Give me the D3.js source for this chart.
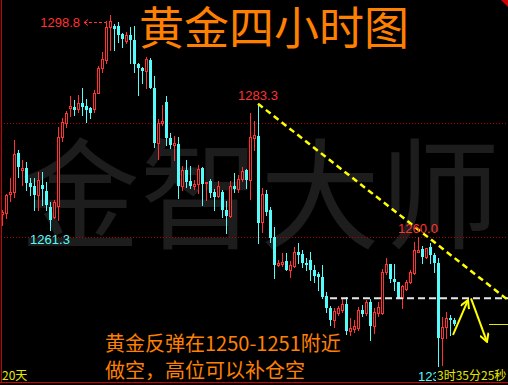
<!DOCTYPE html>
<html>
<head>
<meta charset="utf-8">
<script src="https://cdn.jsdelivr.net/npm/d3@7"></script>
<style>
html, body { margin: 0; padding: 0; background: #000; overflow: hidden; }
</style>
</head>
<body>
<div id="chart"></div>
<script>
///////////////////////////////////////////////////////////////////////////
///////////////////////////////// Data ////////////////////////////////////
///////////////////////////////////////////////////////////////////////////

// 4 hour gold candles (oldest first)
var open = [1264.0,1264.2,1267.5,1267.9,1274.7,1271.7,1272.0,1269.4,1268.9,1267.3,
  1269.1,1268.0,1265.2,1263.5,1265.4,1277.5,1279.9,1282.5,1282.7,1282.4,
  1283.4,1282.9,1282.5,1282.4,1285.2,1289.5,1290.9,1296.7,1296.9,1296.9,
  1295.5,1294.3,1295.3,1294.4,1290.2,1289.5,1289.0,1290.9,1286.0,1276.4,
  1279.9,1283.6,1277.3,1276.1,1276.2,1268.9,1271.7,1269.8,1268.9,1269.3,
  1272.0,1269.4,1269.8,1267.9,1267.2,1267.9,1264.7,1263.7,1268.9,1268.4,
  1270.1,1271.7,1270.0,1277.3,1277.6,1262.6,1267.5,1264.7,1260.0,1255.1,
  1255.3,1255.8,1254.2,1254.9,1257.4,1257.0,1255.4,1256.0,1254.2,1253.5,
  1253.0,1249.7,1247.6,1245.5,1246.7,1247.2,1248.3,1243.6,1243.9,1244.1,
  1247.2,1246.7,1248.6,1244.4,1246.7,1246.7,1253.9,1255.3,1252.6,1252.1,
  1249.3,1250.9,1252.1,1253.7,1257.4,1257.9,1256.5,1258.2,1256.8,1255.4,
  1242.3,1244.3,1245.8,1245.5];

var high = [1264.7,1267.5,1270.3,1276.9,1275.2,1273.4,1273.1,1270.3,1270.3,1271.3,
  1271.3,1269.6,1266.1,1266.5,1279.2,1280.8,1282.0,1284.6,1283.9,1284.8,
  1286.0,1284.1,1282.7,1285.7,1289.9,1292.3,1297.7,1298.8,1297.2,1297.6,
  1295.6,1295.8,1296.7,1296.9,1290.4,1289.7,1291.5,1291.3,1288.1,1280.6,
  1283.1,1284.6,1278.2,1277.6,1277.5,1272.4,1273.4,1272.4,1270.0,1272.6,
  1272.2,1269.6,1270.1,1268.4,1269.8,1268.2,1266.3,1269.8,1271.2,1270.8,
  1272.2,1271.9,1281.7,1280.3,1283.3,1268.6,1268.2,1265.2,1261.7,1256.0,
  1257.2,1257.2,1255.8,1258.2,1258.9,1257.7,1256.3,1257.4,1255.1,1253.9,
  1255.1,1250.4,1247.9,1247.6,1247.9,1249.1,1249.5,1245.8,1245.5,1247.8,
  1248.1,1249.0,1249.1,1247.6,1248.6,1254.4,1256.3,1255.3,1255.3,1252.1,
  1251.6,1252.5,1254.2,1259.1,1260.0,1258.4,1258.1,1258.9,1257.2,1256.3,
  1246.0,1246.9,1246.4,1245.8];

var low = [1262.1,1263.3,1266.3,1267.0,1270.5,1269.1,1268.2,1267.3,1264.7,1264.7,
  1265.6,1264.7,1261.3,1263.3,1263.0,1276.8,1279.2,1281.1,1281.3,1281.8,
  1281.3,1280.1,1280.8,1281.8,1285.2,1288.8,1290.4,1292.7,1292.7,1294.1,
  1293.2,1293.9,1290.4,1288.8,1284.8,1286.9,1286.0,1286.0,1275.7,1273.6,
  1279.6,1276.1,1275.5,1273.4,1266.8,1268.2,1268.7,1268.6,1268.4,1267.7,
  1265.6,1266.5,1267.0,1264.7,1267.0,1263.5,1260.7,1263.5,1267.9,1267.9,
  1269.8,1268.6,1266.6,1275.2,1258.9,1260.9,1263.8,1259.1,1252.8,1254.9,
  1254.9,1254.2,1253.0,1254.7,1255.4,1254.7,1254.2,1252.5,1252.1,1250.7,
  1249.3,1246.9,1244.6,1244.3,1246.4,1246.9,1243.0,1242.9,1243.4,1243.7,
  1246.2,1246.4,1242.0,1243.2,1246.2,1246.5,1253.5,1252.1,1250.7,1249.3,
  1247.6,1250.7,1251.9,1253.5,1257.4,1255.4,1256.3,1255.4,1253.9,1237.3,
  1237.6,1242.3,1242.9,1244.6];

var close = [1264.4,1267.3,1267.9,1274.5,1272.2,1272.0,1269.4,1268.7,1267.3,1270.0,
  1268.4,1265.6,1263.0,1266.1,1277.5,1280.1,1281.7,1282.9,1282.2,1283.4,
  1282.7,1282.2,1281.7,1285.2,1289.5,1291.1,1296.7,1297.7,1296.3,1295.3,
  1294.6,1295.3,1294.4,1290.2,1289.5,1289.0,1291.1,1286.0,1276.4,1279.9,
  1280.3,1277.3,1276.1,1276.4,1268.9,1271.7,1269.6,1268.9,1269.3,1271.9,
  1269.3,1269.6,1267.7,1267.0,1268.9,1264.7,1263.7,1268.9,1268.4,1270.1,
  1271.5,1270.0,1277.5,1277.8,1262.4,1267.5,1264.4,1259.8,1255.1,1255.4,
  1255.6,1254.2,1255.1,1257.4,1256.8,1255.4,1255.1,1254.2,1253.2,1253.0,
  1249.5,1247.6,1245.5,1247.0,1247.6,1248.3,1243.6,1244.1,1244.4,1247.2,
  1246.5,1248.6,1244.4,1246.9,1247.8,1253.9,1255.3,1252.6,1252.1,1249.3,
  1251.4,1252.1,1253.9,1257.7,1257.7,1256.5,1258.1,1256.8,1255.4,1242.3,
  1244.3,1245.8,1245.5,1244.8];

var gridLevels = [1280, 1260];
var peakIndex = 27;            // highest high, labelled with an arrow
var highMarks = [64, 104];     // swing highs labelled in red
var lowMarks = [12, 109];      // swing lows labelled in cyan
var supportLevel = 1249.3;     // white dashed line
var supportFrom = 82;          // candle index where it starts
var trendLine = [[64, 1283.3], [126.5, 1249.0]];
var arrowUp = [[112.75, 1242.9], [116.5, 1249.0]];
var arrowDown = [[117.25, 1249.3], [121.25, 1241.7]];

var title = "黄金四小时图";
var watermark = "金智大师";
var noteLines = ["黄金反弹在1250-1251附近", "做空，高位可以补仓空"];
var periodText = "20天";
var timerText = "3时35分25秒";

///////////////////////////////////////////////////////////////////////////
/////////////////////////////// Set up svg ////////////////////////////////
///////////////////////////////////////////////////////////////////////////

var width = 508;
var height = 385;

var red = "#ff3232";
var cyan = "#54fcfc";
var orange = "#ff8000";
var yellow = "#ffff00";

var svg = d3.select("#chart")
  .append("svg")
  .attr("width", width)
  .attr("height", height);

svg.append("rect")
  .attr("width", width)
  .attr("height", height)
  .attr("fill", "#000");

var candles = d3.range(open.length).map(function(i) {
  return {i: i, o: open[i], h: high[i], l: low[i], c: close[i]};
});

var x = d3.scaleLinear().domain([0, 113]).range([2, 454]);
var y = d3.scaleLinear().domain([1237.3, 1298.8]).range([367, 15]);

//watermark behind everything
svg.append("text")
  .attr("x", 260)
  .attr("y", 240)
  .attr("text-anchor", "middle")
  .attr("font-family", "'Noto Sans CJK SC', sans-serif")
  .attr("font-size", 120)
  .attr("fill", "#1d1d1d")
  .text(watermark);

//dotted price grid
svg.selectAll(".grid")
  .data(gridLevels)
  .enter().append("line")
  .attr("x1", 1)
  .attr("x2", width)
  .attr("y1", function(d) { return Math.round(y(d)) + 0.5; })
  .attr("y2", function(d) { return Math.round(y(d)) + 0.5; })
  .attr("stroke", "#b00000")
  .attr("stroke-dasharray", "1,2");

///////////////////////////////////////////////////////////////////////////
///////////////////////////// Candles /////////////////////////////////////
///////////////////////////////////////////////////////////////////////////

var candle = svg.append("g").selectAll("g")
  .data(candles)
  .enter().append("g");

candle.append("line")
  .attr("x1", function(d) { return Math.round(x(d.i)) + 0.5; })
  .attr("x2", function(d) { return Math.round(x(d.i)) + 0.5; })
  .attr("y1", function(d) { return Math.round(y(d.h)); })
  .attr("y2", function(d) { return Math.round(y(d.l)) + 1; })
  .attr("stroke", function(d) { return d.c >= d.o ? red : cyan; })
  .attr("stroke-width", 1);

//down candles: filled cyan
candle.filter(function(d) { return d.c < d.o; })
  .append("rect")
  .attr("x", function(d) { return Math.round(x(d.i)) - 1; })
  .attr("width", 3)
  .attr("y", function(d) { return Math.round(y(d.o)); })
  .attr("height", function(d) { return Math.max(1, Math.round(y(d.c)) - Math.round(y(d.o))); })
  .attr("fill", cyan);

//up candles: hollow red
candle.filter(function(d) { return d.c >= d.o; })
  .append("rect")
  .attr("x", function(d) { return Math.round(x(d.i)) - 0.5; })
  .attr("width", 2)
  .attr("y", function(d) { return Math.round(y(d.c)) + 0.5; })
  .attr("height", function(d) { return Math.max(1, Math.round(y(d.o)) - Math.round(y(d.c))); })
  .attr("fill", "#000")
  .attr("stroke", red)
  .attr("stroke-width", 1);

///////////////////////////////////////////////////////////////////////////
////////////////////////// Drawn lines & arrows ///////////////////////////
///////////////////////////////////////////////////////////////////////////

svg.append("line")
  .attr("x1", x(supportFrom))
  .attr("x2", width)
  .attr("y1", y(supportLevel))
  .attr("y2", y(supportLevel))
  .attr("stroke", "#e6e6e6")
  .attr("stroke-width", 2)
  .attr("stroke-dasharray", "7,4");

svg.append("line")
  .attr("x1", x(trendLine[0][0]))
  .attr("y1", y(trendLine[0][1]))
  .attr("x2", x(trendLine[1][0]))
  .attr("y2", y(trendLine[1][1]))
  .attr("stroke", yellow)
  .attr("stroke-width", 2.5)
  .attr("stroke-dasharray", "6,4");

var defs = svg.append("defs");
defs.append("marker")
  .attr("id", "vhead")
  .attr("viewBox", "0 0 10 10")
  .attr("refX", 9)
  .attr("refY", 5)
  .attr("markerWidth", 10)
  .attr("markerHeight", 10)
  .attr("markerUnits", "userSpaceOnUse")
  .attr("orient", "auto")
  .append("path")
  .attr("d", "M1,0.5 L9,5 L1,9.5")
  .attr("fill", "none")
  .attr("stroke", yellow)
  .attr("stroke-width", 2);

var arrowLine = d3.line()
  .x(function(d) { return x(d[0]); })
  .y(function(d) { return y(d[1]); });

[arrowUp, arrowDown].forEach(function(a) {
  svg.append("path")
    .attr("d", arrowLine(a))
    .attr("fill", "none")
    .attr("stroke", yellow)
    .attr("stroke-width", 2)
    .attr("marker-end", "url(#vhead)");
});

//last price tick at the right edge
var lastClose = close[close.length - 1];
svg.append("line")
  .attr("x1", 489)
  .attr("x2", width)
  .attr("y1", Math.round(y(lastClose)) + 0.5)
  .attr("y2", Math.round(y(lastClose)) + 0.5)
  .attr("stroke", "#e8e800")
  .attr("stroke-width", 1);

///////////////////////////////////////////////////////////////////////////
////////////////////////////// Price labels ///////////////////////////////
///////////////////////////////////////////////////////////////////////////

var labelFont = "'Liberation Sans', Arial, sans-serif";

//peak label with arrow
var peakY = Math.round(y(high[peakIndex]));
svg.append("text")
  .attr("x", 80)
  .attr("y", peakY + 12)
  .attr("text-anchor", "end")
  .attr("font-family", labelFont)
  .attr("font-size", 13)
  .attr("fill", red)
  .text(high[peakIndex].toFixed(1));
svg.append("line")
  .attr("x1", 84)
  .attr("x2", Math.round(x(peakIndex)))
  .attr("y1", peakY + 7.5)
  .attr("y2", peakY + 7.5)
  .attr("stroke", red)
  .attr("stroke-dasharray", "3,2");
svg.append("path")
  .attr("d", "M88," + (peakY + 4.5) + " L84," + (peakY + 7.5) + " L88," + (peakY + 10.5))
  .attr("fill", "none")
  .attr("stroke", red);

svg.selectAll(".hi")
  .data(highMarks)
  .enter().append("text")
  .attr("x", function(d) { return x(d); })
  .attr("y", function(d) { return y(high[d]) - 4; })
  .attr("text-anchor", "middle")
  .attr("font-family", labelFont)
  .attr("font-size", 13)
  .attr("fill", red)
  .text(function(d) { return high[d].toFixed(1); });

svg.selectAll(".lo")
  .data(lowMarks)
  .enter().append("text")
  .attr("x", function(d) { return x(d); })
  .attr("y", function(d) { return y(low[d]) + 14; })
  .attr("text-anchor", "middle")
  .attr("font-family", labelFont)
  .attr("font-size", 13)
  .attr("fill", cyan)
  .text(function(d) { return low[d].toFixed(1); });

///////////////////////////////////////////////////////////////////////////
//////////////////////////////// Texts ////////////////////////////////////
///////////////////////////////////////////////////////////////////////////

var cjk = "'Noto Sans CJK SC', sans-serif";

svg.append("text")
  .attr("x", 139)
  .attr("y", 45)
  .attr("font-family", cjk)
  .attr("font-size", 45)
  .attr("fill", orange)
  .text(title);

svg.selectAll(".note")
  .data(noteLines)
  .enter().append("text")
  .attr("x", 105)
  .attr("y", function(d, i) { return 351 + i * 27; })
  .attr("font-family", cjk)
  .attr("font-size", 20)
  .attr("fill", orange)
  .text(function(d) { return d; });

svg.append("text")
  .attr("x", 2)
  .attr("y", 380)
  .attr("font-family", cjk)
  .attr("font-size", 12)
  .attr("fill", "#e6e600")
  .text(periodText);

//countdown sits over the low label
svg.append("rect")
  .attr("x", 436)
  .attr("y", 367)
  .attr("width", width - 436)
  .attr("height", 15)
  .attr("fill", "#000");
svg.append("text")
  .attr("x", 437)
  .attr("y", 380)
  .attr("font-family", cjk)
  .attr("font-size", 12)
  .attr("fill", "#e6e600")
  .text(timerText);

///////////////////////////////////////////////////////////////////////////
//////////////////////////////// Frame ////////////////////////////////////
///////////////////////////////////////////////////////////////////////////

svg.append("line")
  .attr("x1", 1.5).attr("x2", 1.5)
  .attr("y1", 0).attr("y2", 383)
  .attr("stroke", "#d00000");
svg.append("line")
  .attr("x1", 0).attr("x2", width)
  .attr("y1", 382.5).attr("y2", 382.5)
  .attr("stroke", "#d00000");
svg.append("path")
  .attr("d", "M501,0 L508,0 L508,7 Z")
  .attr("fill", "#d00000");
</script>
</body>
</html>
